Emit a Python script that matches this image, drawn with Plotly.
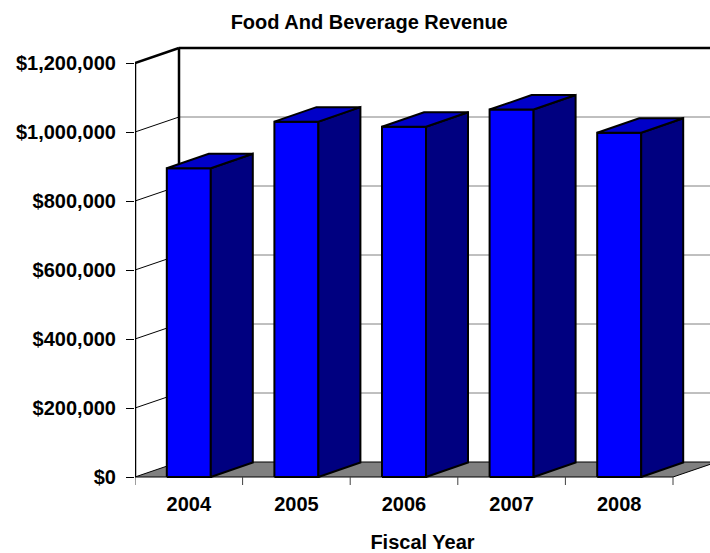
import plotly.graph_objects as go

# Food and beverage revenue by fiscal year
years = ["2004", "2005", "2006", "2007", "2008"]
revenue = [895000, 1030000, 1015000, 1065000, 998000]
y_ticks = [0, 200000, 400000, 600000, 800000, 1000000, 1200000]

# pixel geometry of the plot area (used to express the 3D depth offsets in data units)
CAT_PX = 107.6                  # pixels per category
VAL_PER_PX = 200000 / 69        # value units per pixel
WALL_DX = 44 / CAT_PX           # depth of the walls/floor
WALL_DY = 15 * VAL_PER_PX
BAR_W = 44 / CAT_PX             # front face width
BAR_DX = 42 / CAT_PX            # bar depth
BAR_DY = 14.5 * VAL_PER_PX

X0 = -0.5
X1 = len(years) - 0.5
XMAX = X0 + 575 / CAT_PX
YTOP = y_ticks[-1]

FRONT = "#0000FF"
SIDE = "#000080"
TOP = "#0000C8"
FLOOR = "#808080"

fig = go.Figure()


def line(xs, ys, color="black", width=1):
    fig.add_trace(go.Scatter(x=xs, y=ys, mode="lines",
                             line=dict(color=color, width=width),
                             hoverinfo="skip", showlegend=False))


def poly(xs, ys, fill, width=2):
    fig.add_trace(go.Scatter(x=xs + [xs[0]], y=ys + [ys[0]], mode="lines",
                             fill="toself", fillcolor=fill,
                             line=dict(color="black", width=width),
                             hoverinfo="skip", showlegend=False))


# back wall gridlines
for v in y_ticks[1:-1]:
    line([X0 + WALL_DX, XMAX + 1], [v + WALL_DY, v + WALL_DY], color="#808080", width=1)
# side wall gridlines
for v in y_ticks[1:-1]:
    line([X0, X0 + WALL_DX], [v, v + WALL_DY], color="black", width=1)

# wall edges
line([X0 + WALL_DX, X0 + WALL_DX], [WALL_DY, YTOP + WALL_DY], width=2.5)
line([X0 + WALL_DX, XMAX + 1], [YTOP + WALL_DY, YTOP + WALL_DY], width=2.5)
line([X0, X0 + WALL_DX], [YTOP, YTOP + WALL_DY], width=2.5)

# floor
poly([X0, X1, X1 + WALL_DX, X0 + WALL_DX], [0, 0, WALL_DY, WALL_DY], FLOOR, width=1)

# front value axis
line([X0, X0], [0, YTOP], width=2.5)

# category boundary ticks
for k in range(len(years) + 1):
    line([X0 + k, X0 + k], [0, -8 * VAL_PER_PX], color="#404040", width=1)

# bars
for i, v in enumerate(revenue):
    xl, xr = i - BAR_W / 2, i + BAR_W / 2
    poly([xl, xr, xr, xl], [0, 0, v, v], FRONT)
    poly([xr, xr + BAR_DX, xr + BAR_DX, xr], [0, BAR_DY, v + BAR_DY, v], SIDE)
    poly([xl, xr, xr + BAR_DX, xl + BAR_DX], [v, v, v + BAR_DY, v + BAR_DY], TOP)

font = dict(family="Liberation Sans, Arial, sans-serif", size=20, color="black", weight="bold")

fig.update_layout(
    width=710, height=553,
    margin=dict(l=135, r=0, t=40, b=65),
    paper_bgcolor="white", plot_bgcolor="white",
    font=font,
    title=dict(text="Food And Beverage Revenue", x=0.52, xanchor="center",
               y=1 - 22 / 553, yanchor="middle", font=font),
    xaxis=dict(range=[X0, XMAX], showgrid=False, zeroline=False, showline=False,
               tickmode="array", tickvals=list(range(len(years))), ticktext=years,
               ticks="", ticklabelstandoff=2,
               title=dict(text="Fiscal Year", standoff=22, font=font),
               fixedrange=True),
    yaxis=dict(range=[-11 * VAL_PER_PX, 437 * VAL_PER_PX], showgrid=False,
               zeroline=False, showline=False,
               tickmode="array", tickvals=y_ticks, tickformat="$,.0f",
               ticks="outside", ticklen=8, tickcolor="black", tickwidth=1,
               ticklabelstandoff=6, fixedrange=True),
)

fig.write_html("out.html")
